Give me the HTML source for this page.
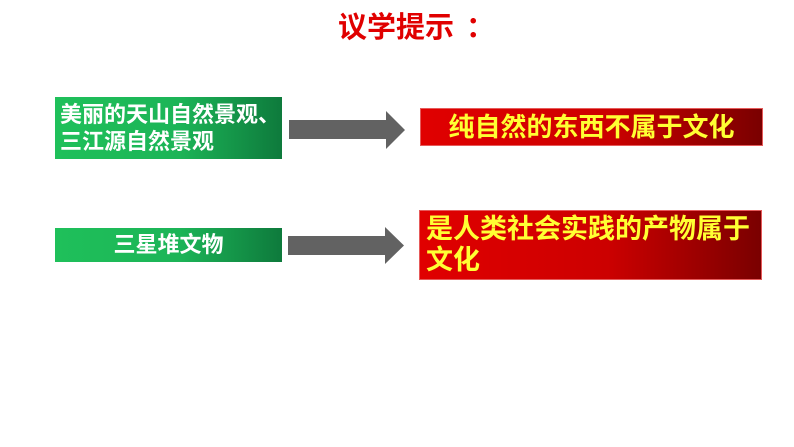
<!DOCTYPE html>
<html><head><meta charset="utf-8"><style>
body{margin:0;width:794px;height:447px;background:#fff;position:relative;overflow:hidden;font-family:"Liberation Sans","Noto Sans CJK SC",sans-serif;font-weight:bold}
div{position:absolute;box-sizing:border-box;white-space:nowrap}
.g{background:linear-gradient(90deg,#1fc05a 0%,#1cb457 55%,#0e7a3c 100%);color:#fff;font-size:22px}
.r{background:linear-gradient(90deg,#e00000 0%,#cc0000 55%,#7a0000 100%);color:#ffff33;border:1px solid #e65a5a}
</style></head><body>
<div style="left:338px;top:11px;color:#e00000;font-size:29px;line-height:34px">议学提示<span style="padding-left:12px">：</span></div>
<div class="g" style="left:55px;top:97px;width:227px;height:62px;padding:4px 0 0 5px;line-height:27px">美丽的天山自然景观、<br>三江源自然景观</div>
<div class="g" style="left:55px;top:228px;width:227px;height:34px;line-height:34px;text-align:center">三星堆文物</div>
<svg style="position:absolute;left:0;top:0" width="794" height="447">
<polygon points="289,120 386,120 386,111 405,130 386,149 386,139 289,139" fill="#626262"/>
<polygon points="288,236 385,236 385,227 404,245.5 385,264 385,255 288,255" fill="#626262"/>
</svg>
<div class="r" style="left:420px;top:108px;width:343px;height:38px;line-height:36px;text-align:center;font-size:26px">纯自然的东西不属于文化</div>
<div class="r" style="left:419px;top:210px;width:343px;height:70px;padding:3px 0 0 6px;line-height:31px;font-size:27px">是人类社会实践的产物属于<br>文化</div>
</body></html>
